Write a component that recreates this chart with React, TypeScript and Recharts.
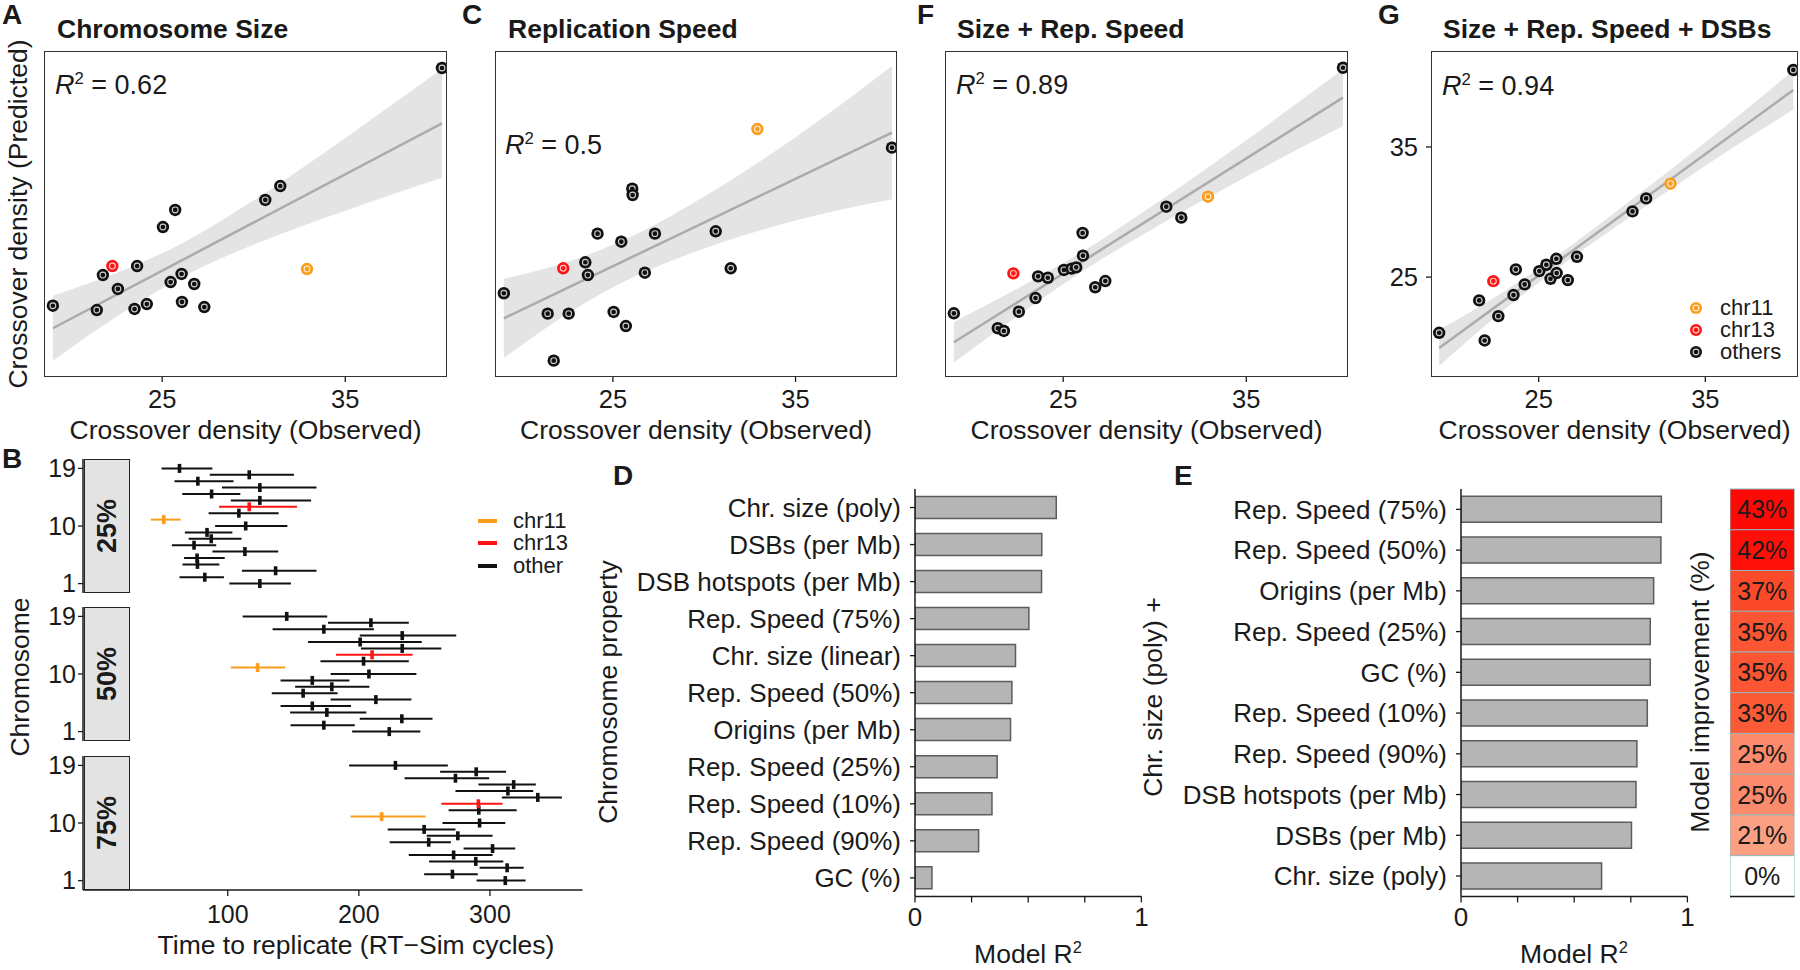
import React from 'react';
import {
  ComposedChart, Scatter, Line, Area, XAxis, YAxis, ErrorBar,
  BarChart, Bar, Cell, LabelList,
} from 'recharts';

const FONT = '"Liberation Sans", Arial, Helvetica, sans-serif';
const INK = '#1a1a1a';
const ORANGE = '#fb9d1c';
const RED = '#ff1414';

// ---------- Scatter panels (A, C, F, G) ----------
const observed = [19.03, 21.43, 21.76, 22.28, 22.58, 23.49, 23.63, 24.16, 25.04, 25.46, 25.71, 26.06, 26.08, 26.75, 27.3, 30.63, 31.45, 32.91, 40.28];
const pointGroup = ['others', 'others', 'others', 'chr13', 'others', 'others', 'others', 'others', 'others', 'others', 'others', 'others', 'others', 'others', 'others', 'others', 'others', 'chr11', 'others'];
const predSize = [22.8, 22.47, 25.16, 25.85, 24.09, 22.55, 25.85, 22.93, 28.85, 24.62, 30.16, 25.24, 23.09, 24.47, 22.7, 30.93, 32.0, 25.62, 41.07];
const predRepSpeed = [23.76, 22.19, 18.58, 25.68, 22.19, 26.14, 25.16, 28.34, 22.32, 27.72, 21.24, 31.79, 31.31, 25.34, 28.34, 28.52, 25.68, 36.38, 34.95];
const predSizeRep = [22.22, 21.07, 20.86, 25.29, 22.34, 23.39, 25.06, 24.95, 25.55, 25.65, 25.75, 28.39, 26.65, 24.22, 24.7, 30.41, 29.57, 31.18, 41.09];
const predSizeRepDsb = [20.72, 23.21, 20.13, 24.69, 22.0, 23.62, 25.59, 24.44, 25.46, 25.95, 24.87, 26.41, 25.31, 24.77, 26.56, 30.05, 31.05, 32.18, 40.92];

const fitX = [19.03, 23, 26.1, 30, 35, 40.28];
const bandLoA = [18.57, 22.41, 25.01, 27.5, 30.1, 32.63];
const bandHiA = [23.57, 25.61, 27.61, 30.9, 35.7, 41.01];
const lineA = [21.07, 36.82];
const bandLoC = [18.78, 22.6, 24.98, 27.2, 29.35, 30.98];
const bandHiC = [24.88, 26.4, 28.18, 31.2, 35.75, 41.22];
const lineC = [21.83, 36.1];
const bandLoF = [18.43, 22.5, 25.49, 28.8, 32.72, 36.61];
const bandHiF = [21.55, 24.5, 26.99, 30.6, 35.52, 40.97];
const lineF = [19.99, 38.79];
const bandLoG = [18.16, 22.56, 25.65, 29.19, 33.56, 37.88];
const bandHiG = [20.96, 23.96, 26.65, 30.39, 35.36, 40.88];
const lineG = [19.56, 39.38];

const scatterTicks = [25, 35];
const groupColor: Record<string, string> = { chr11: ORANGE, chr13: RED, others: '#111111' };

// ---------- Panel B ----------
const chromosomes = [1, 2, 3, 4, 5, 6, 7, 8, 9, 10, 11, 12, 13, 14, 15, 16, 17, 18, 19];
const chrTicks = [1, 10, 19];
const timeTicks = [100, 200, 300];
const facetLabels = ['25%', '50%', '75%'];
const mid25 = [124.5, 82.5, 136.5, 76.9, 76.6, 113.1, 74.3, 87.4, 84.2, 113.7, 51.2, 108.5, 116.4, 124.5, 87.7, 124.5, 77.2, 116.4, 63.2];
const lo25 = [101.2, 63.2, 110.8, 65.5, 66.7, 88.3, 57.4, 70.2, 67.3, 90.4, 41.3, 85.4, 93.3, 102.3, 65.3, 95.6, 59.4, 86.3, 49.5];
const hi25 = [148.2, 97.1, 167.7, 93.6, 97.7, 138.5, 91.2, 110.5, 103.5, 145.5, 64.1, 138.8, 152.8, 163.6, 109.6, 167.7, 104.4, 150.5, 88.3];
const mid50 = [223.2, 173.3, 232.8, 175.6, 164.5, 213.0, 157.5, 179.4, 164.5, 207.7, 122.8, 203.6, 210.1, 233.1, 201.0, 233.1, 173.3, 209.2, 145.0];
const lo50 = [194.9, 147.9, 200.7, 147.6, 140.3, 178.5, 133.6, 151.4, 140.3, 178.5, 102.3, 170.7, 182.6, 201.6, 161.3, 200.7, 134.2, 176.5, 111.4];
const hi50 = [246.9, 196.9, 256.2, 205.7, 194.0, 240.1, 183.8, 208.0, 192.8, 243.9, 143.8, 238.1, 241.0, 262.9, 248.0, 274.3, 211.5, 238.1, 175.9];
const mid75 = [311.7, 271.4, 313.1, 289.2, 272.3, 302.0, 253.3, 275.5, 249.8, 292.1, 217.4, 291.5, 291.2, 336.5, 313.7, 318.1, 273.7, 289.5, 227.9];
const lo75 = [289.8, 249.8, 292.1, 253.6, 238.1, 279.9, 223.5, 251.8, 222.0, 263.8, 193.7, 268.5, 262.9, 309.1, 273.7, 291.2, 234.9, 262.0, 192.6];
const hi75 = [327.2, 290.7, 325.7, 310.2, 302.0, 319.3, 270.2, 302.0, 273.7, 311.7, 250.9, 320.4, 309.6, 354.9, 333.0, 335.0, 299.4, 312.3, 267.9];

// ---------- Panel D ----------
const dCategories = ['Chr. size (poly)', 'DSBs (per Mb)', 'DSB hotspots (per Mb)', 'Rep. Speed (75%)', 'Chr. size (linear)', 'Rep. Speed (50%)', 'Origins (per Mb)', 'Rep. Speed (25%)', 'Rep. Speed (10%)', 'Rep. Speed (90%)', 'GC (%)'];
const dR2 = [0.624, 0.56, 0.559, 0.503, 0.444, 0.428, 0.422, 0.363, 0.34, 0.281, 0.075];

// ---------- Panel E ----------
const eCategories = ['Rep. Speed (75%)', 'Rep. Speed (50%)', 'Origins (per Mb)', 'Rep. Speed (25%)', 'GC (%)', 'Rep. Speed (10%)', 'Rep. Speed (90%)', 'DSB hotspots (per Mb)', 'DSBs (per Mb)', 'Chr. size (poly)'];
const eR2 = [0.885, 0.883, 0.851, 0.836, 0.836, 0.823, 0.777, 0.773, 0.753, 0.621];
const eImprovement = [43, 42, 37, 35, 35, 33, 25, 25, 21, 0];
const eTileColor = ['#fe0a06', '#fe0f08', '#fb4a2a', '#fb5533', '#fb5533', '#fb5a37', '#fc8a6c', '#fc8a6c', '#fca084', '#ffffff'];
const r2Ticks = [0, 0.25, 0.5, 0.75, 1];

// ---------- helpers ----------
type TProps = { x: number; y: number; size?: number; bold?: boolean; anchor?: 'start' | 'middle' | 'end'; rotate?: boolean; children: React.ReactNode };
const T = ({ x, y, size = 26.5, bold = false, anchor = 'start', rotate = false, children }: TProps) => (
  <div
    style={{
      position: 'absolute', left: x, top: y, fontSize: size, lineHeight: `${size}px`,
      fontWeight: bold ? 700 : 400, whiteSpace: 'nowrap', color: INK,
      transform: rotate
        ? 'translate(-50%,-50%) rotate(-90deg)'
        : `translate(${anchor === 'start' ? '0' : anchor === 'middle' ? '-50%' : '-100%'},-50%)`,
    }}
  >
    {children}
  </div>
);
const Sup = ({ children }: { children: React.ReactNode }) => (
  <span style={{ fontSize: '0.62em', position: 'relative', top: '-0.6em' }}>{children}</span>
);
const R2 = ({ x, y, value }: { x: number; y: number; value: string }) => (
  <T x={x} y={y} size={27}>
    <i>R</i><Sup>2</Sup> = {value}
  </T>
);

const PointShape = (props: any) => {
  const { cx, cy, payload } = props;
  const c = groupColor[payload.g];
  return (
    <g>
      <circle cx={cx} cy={cy} r={6.2} fill={c} />
      <circle cx={cx} cy={cy} r={2.9} fill="none" stroke="#ffffff" strokeWidth={1.1} strokeOpacity={0.8} />
      <circle cx={cx} cy={cy} r={1.2} fill={c} />
    </g>
  );
};

const PLOT_TOP = 52;
const PLOT_H = 324;

type SPProps = { plotLeft: number; plotW: number; yW: number; pred: number[]; lo: number[]; hi: number[]; line: number[] };
const ScatterPanel = ({ plotLeft, plotW, yW, pred, lo, hi, line }: SPProps) => {
  const mL = 10, mT = 10, mR = 3;
  const data = fitX.map((x, i) => ({
    x,
    band: [lo[i], hi[i]],
    fit: i === 0 ? line[0] : i === fitX.length - 1 ? line[1] : null,
  }));
  const pts = observed.map((x, i) => ({ x, y: pred[i], g: pointGroup[i] }));
  const showY = yW > 0;
  return (
    <>
      <div style={{ position: 'absolute', left: plotLeft - yW - mL, top: PLOT_TOP - mT }}>
        <ComposedChart width={mL + yW + plotW + mR} height={mT + PLOT_H + 50} data={data} margin={{ top: mT, right: mR, left: mL, bottom: 0 }}>
          <XAxis dataKey="x" type="number" domain={[18.6, 40.5]} allowDataOverflow ticks={scatterTicks} interval={0}
            axisLine={false} tickLine={{ stroke: INK, strokeWidth: 1.3 }} tickSize={6} tickMargin={8} height={50}
            tick={{ fontSize: 25.5, fill: INK }} />
          <YAxis dataKey="y" type="number" domain={[17.4, 42.3]} allowDataOverflow ticks={scatterTicks} interval={0}
            hide={!showY} width={yW} axisLine={false} tickLine={{ stroke: INK, strokeWidth: 1.3 }} tickSize={6} tickMargin={8}
            tick={{ fontSize: 25.5, fill: INK }} />
          <Area dataKey="band" type="monotone" fill="#e4e4e4" fillOpacity={1} stroke="none" isAnimationActive={false} />
          <Line dataKey="fit" type="linear" stroke="#ababab" strokeWidth={2.5} dot={false} connectNulls isAnimationActive={false} />
          <Scatter data={pts} shape={PointShape} isAnimationActive={false} />
        </ComposedChart>
      </div>
      <div style={{ position: 'absolute', left: plotLeft - 0.75, top: PLOT_TOP - 0.75, width: plotW + 1.5, height: PLOT_H + 1.5, border: '1.5px solid #333', boxSizing: 'border-box', pointerEvents: 'none' }} />
    </>
  );
};

// ---------- Panel B facet ----------
const FACET_H = 134;
const facetTops = [458.6, 607.3, 756.1];
const BarMark = (color: string) => (props: any) => {
  const { cx, cy } = props;
  return <rect x={cx - 1.8} y={cy - 4.5} width={3.6} height={9} fill={color} />;
};
const Facet = ({ top, mid, lo, hi, showX, label }: { top: number; mid: number[]; lo: number[]; hi: number[]; showX: boolean; label: string }) => {
  const rows = chromosomes.map((c, i) => ({ t: mid[i], chr: c, err: [mid[i] - lo[i], hi[i] - mid[i]] }));
  const series = [
    { rows: rows.filter((r) => r.chr !== 11 && r.chr !== 13), color: '#111111' },
    { rows: rows.filter((r) => r.chr === 13), color: RED },
    { rows: rows.filter((r) => r.chr === 11), color: ORANGE },
  ];
  const yW = 60;
  return (
    <>
      <div style={{ position: 'absolute', left: 83 - yW, top: top - 8 }}>
        <ComposedChart width={yW + 499.5 + 6} height={8 + FACET_H + (showX ? 45 : 8)} margin={{ top: 8, right: 6, left: 0, bottom: showX ? 0 : 8 }}>
          <XAxis dataKey="t" type="number" domain={[-10.4, 370.6]} allowDataOverflow ticks={timeTicks} interval={0} hide={!showX}
            height={45} tickSize={6} tickMargin={9} tick={{ fontSize: 25, fill: INK }}
            axisLine={{ stroke: INK, strokeWidth: 1.5 }} tickLine={{ stroke: INK, strokeWidth: 1.3 }} />
          <YAxis dataKey="chr" type="number" domain={[-0.47, 20.47]} allowDataOverflow ticks={chrTicks} interval={0} width={yW}
            tickSize={5} tickMargin={2} tick={{ fontSize: 25, fill: INK }}
            axisLine={{ stroke: INK, strokeWidth: 1.5 }} tickLine={{ stroke: INK, strokeWidth: 1.3 }} />
          {series.map((s, k) => (
            <Scatter key={k} data={s.rows} shape={BarMark(s.color)} isAnimationActive={false}>
              <ErrorBar dataKey="err" direction="x" width={0} stroke={s.color} strokeWidth={2} />
            </Scatter>
          ))}
        </ComposedChart>
      </div>
      <div style={{ position: 'absolute', left: 84, top, width: 45.5, height: FACET_H, background: '#e3e3e3', border: '1.5px solid #222', boxSizing: 'border-box' }} />
      <T x={107} y={top + FACET_H / 2} size={27} bold rotate>{label}</T>
    </>
  );
};

// ---------- bar panels ----------
const BAR_TOP = 489;
const BAR_H = 407.4;
const r2Format = (v: number) => (v === 0 ? '0' : v === 1 ? '1' : '');

const R2Bars = ({ plotLeft, yW, cats, vals, gap }: { plotLeft: number; yW: number; cats: string[]; vals: number[]; gap: string }) => {
  const rows = cats.map((name, i) => ({ name, r2: vals[i] }));
  return (
    <div style={{ position: 'absolute', left: plotLeft - yW, top: BAR_TOP - 5 }}>
      <BarChart layout="vertical" width={yW + 226.4 + 10} height={5 + BAR_H + 40} data={rows} margin={{ top: 5, right: 10, left: 0, bottom: 0 }} barCategoryGap={gap}>
        <XAxis type="number" domain={[0, 1]} allowDataOverflow ticks={r2Ticks} interval={0} tickFormatter={r2Format} height={40}
          tickSize={6} tickMargin={5} tick={{ fontSize: 26, fill: INK }}
          axisLine={{ stroke: INK, strokeWidth: 1.5 }} tickLine={{ stroke: INK, strokeWidth: 1.3 }} />
        <YAxis type="category" dataKey="name" width={yW} interval={0} tickSize={5} tickMargin={9}
          tick={{ fontSize: 26, fill: INK }} axisLine={{ stroke: INK, strokeWidth: 1.5 }} tickLine={{ stroke: INK, strokeWidth: 1.3 }} />
        <Bar dataKey="r2" fill="#b5b5b5" stroke="#5c5c5c" strokeWidth={1.5} isAnimationActive={false} />
      </BarChart>
    </div>
  );
};

const Heatmap = () => {
  const rows = eCategories.map((name, i) => ({ name, tile: 1, imp: eImprovement[i] }));
  return (
    <div style={{ position: 'absolute', left: 1730, top: BAR_TOP - 5 }}>
      <BarChart layout="vertical" width={64.5} height={5 + BAR_H + 40} data={rows} margin={{ top: 5, right: 0, left: 0, bottom: 0 }} barCategoryGap={0}>
        <XAxis type="number" domain={[0, 1]} allowDataOverflow tick={false} tickLine={false} height={40} axisLine={{ stroke: INK, strokeWidth: 1.5 }} />
        <YAxis type="category" dataKey="name" hide />
        <Bar dataKey="tile" stroke="#8fb9bf" strokeWidth={1} isAnimationActive={false}>
          {rows.map((r, i) => <Cell key={i} fill={eTileColor[i]} />)}
          <LabelList dataKey="imp" position="center" formatter={(v: any) => `${v}%`} fill={INK} stroke="none" fontSize={25} />
        </Bar>
      </BarChart>
    </div>
  );
};

const LegendDot = ({ x, y, color }: { x: number; y: number; color: string }) => (
  <svg style={{ position: 'absolute', left: x - 8, top: y - 8 }} width={16} height={16}>
    <circle cx={8} cy={8} r={6} fill={color} />
    <circle cx={8} cy={8} r={2.9} fill="none" stroke="#fff" strokeWidth={1.1} strokeOpacity={0.8} />
    <circle cx={8} cy={8} r={1.2} fill={color} />
  </svg>
);

export default function App() {
  return (
    <div style={{ position: 'absolute', left: 0, top: 0, width: 1800, height: 970, background: '#ffffff', fontFamily: FONT, overflow: 'hidden' }}>
      {/* Scatter panels */}
      <ScatterPanel plotLeft={45} plotW={401} yW={0} pred={predSize} lo={bandLoA} hi={bandHiA} line={lineA} />
      <ScatterPanel plotLeft={496} plotW={400} yW={0} pred={predRepSpeed} lo={bandLoC} hi={bandHiC} line={lineC} />
      <ScatterPanel plotLeft={946} plotW={401} yW={0} pred={predSizeRep} lo={bandLoF} hi={bandHiF} line={lineF} />
      <ScatterPanel plotLeft={1432} plotW={365} yW={50} pred={predSizeRepDsb} lo={bandLoG} hi={bandHiG} line={lineG} />

      <T x={2} y={15} size={28} bold>A</T>
      <T x={57} y={29} bold>Chromosome Size</T>
      <R2 x={55} y={87} value="0.62" />
      <T x={245.5} y={430} anchor="middle">Crossover density (Observed)</T>
      <T x={18} y={214} rotate>Crossover density (Predicted)</T>

      <T x={462} y={15} size={28} bold>C</T>
      <T x={508} y={29} bold>Replication Speed</T>
      <R2 x={505} y={147} value="0.5" />
      <T x={696} y={430} anchor="middle">Crossover density (Observed)</T>

      <T x={917} y={15} size={28} bold>F</T>
      <T x={957} y={29} bold>Size + Rep. Speed</T>
      <R2 x={956} y={87} value="0.89" />
      <T x={1146.5} y={430} anchor="middle">Crossover density (Observed)</T>

      <T x={1378} y={15} size={28} bold>G</T>
      <T x={1443} y={29} bold>Size + Rep. Speed + DSBs</T>
      <R2 x={1442} y={88} value="0.94" />
      <T x={1614.5} y={430} anchor="middle">Crossover density (Observed)</T>
      <LegendDot x={1696} y={308} color={ORANGE} />
      <LegendDot x={1696} y={330} color={RED} />
      <LegendDot x={1696} y={352} color="#111111" />
      <T x={1720} y={308} size={22}>chr11</T>
      <T x={1720} y={330} size={22}>chr13</T>
      <T x={1720} y={352} size={22}>others</T>

      {/* Panel B */}
      <Facet top={facetTops[0]} mid={mid25} lo={lo25} hi={hi25} showX={false} label={facetLabels[0]} />
      <Facet top={facetTops[1]} mid={mid50} lo={lo50} hi={hi50} showX={false} label={facetLabels[1]} />
      <Facet top={facetTops[2]} mid={mid75} lo={lo75} hi={hi75} showX={true} label={facetLabels[2]} />
      <T x={2} y={459} size={28} bold>B</T>
      <T x={20} y={677} rotate>Chromosome</T>
      <T x={356} y={945} anchor="middle">Time to replicate (RT−Sim cycles)</T>
      <div style={{ position: 'absolute', left: 478, top: 519, width: 19, height: 4, background: ORANGE }} />
      <div style={{ position: 'absolute', left: 478, top: 541, width: 19, height: 4, background: RED }} />
      <div style={{ position: 'absolute', left: 478, top: 564, width: 19, height: 4, background: '#111' }} />
      <T x={513} y={521} size={22}>chr11</T>
      <T x={513} y={543} size={22}>chr13</T>
      <T x={513} y={566} size={22}>other</T>

      {/* Panel D */}
      <R2Bars plotLeft={914.8} yW={300} cats={dCategories} vals={dR2} gap="20%" />
      <T x={613} y={476} size={28} bold>D</T>
      <T x={608} y={692} rotate>Chromosome property</T>
      <T x={1028} y={956} anchor="middle">Model R<Sup>2</Sup></T>

      {/* Panel E */}
      <R2Bars plotLeft={1460.7} yW={280} cats={eCategories} vals={eR2} gap="18%" />
      <Heatmap />
      <T x={1174} y={476} size={28} bold>E</T>
      <T x={1153} y={697} rotate>Chr. size (poly) +</T>
      <T x={1700} y={692} rotate>Model improvement (%)</T>
      <T x={1574} y={956} anchor="middle">Model R<Sup>2</Sup></T>
    </div>
  );
}
